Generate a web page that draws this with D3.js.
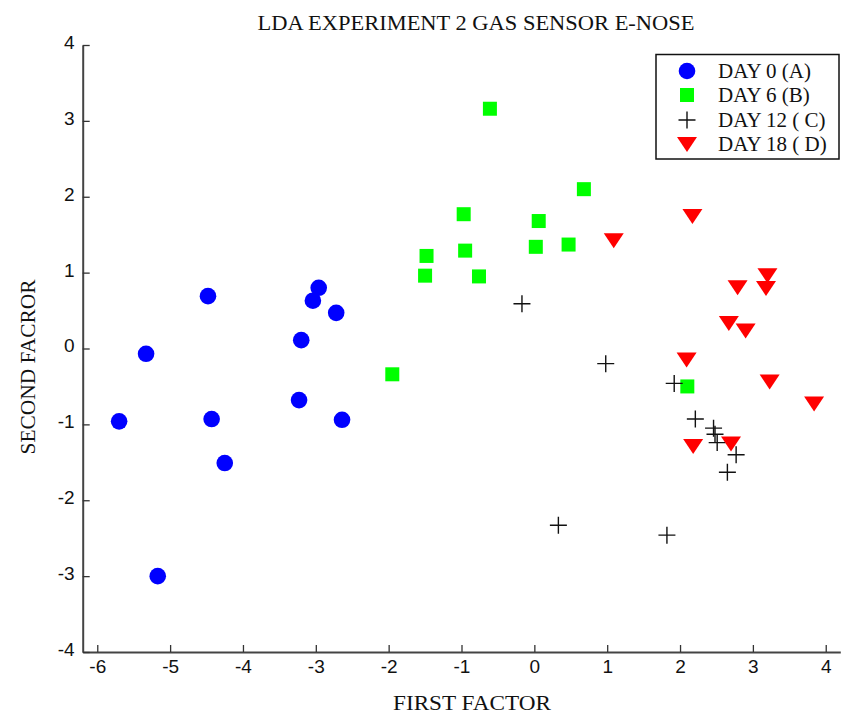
<!DOCTYPE html>
<html>
<head>
<meta charset="utf-8">
<script src="https://cdn.jsdelivr.net/npm/d3@7"></script>
<style>
  body { margin: 0; background: #fff; }
  svg { display: block; }
</style>
</head>
<body>
<div id="chart"></div>
<script>
// day 0 (A)
var day0X = [-5.70, -5.33, -4.48, -4.43, -4.25, -5.17, -3.20, -3.23, -3.04, -2.96, -2.72, -2.64];
var day0Y = [-0.96, -0.07, 0.69, -0.93, -1.51, -3.00, 0.11, -0.68, 0.63, 0.80, 0.47, -0.94];
// day 6 (B)
var day6X = [-0.61, 0.68, -0.97, 0.06, -0.95, 0.02, 0.47, -1.48, -1.50, -0.76, -1.95, 2.10];
var day6Y = [3.16, 2.10, 1.77, 1.68, 1.29, 1.34, 1.37, 1.22, 0.96, 0.95, -0.34, -0.50];
// day 12 (C)
var day12X = [-0.17, 0.98, 1.92, 2.21, 0.33, 1.82, 2.46, 2.48, 2.51, 2.77, 2.65];
var day12Y = [0.59, -0.20, -0.46, -0.93, -2.33, -2.46, -1.05, -1.13, -1.24, -1.40, -1.63];
// day 18 (D)
var day18X = [2.17, 1.09, 3.20, 3.18, 2.79, 2.67, 2.90, 2.09, 3.23, 3.84, 2.18, 2.70];
var day18Y = [1.74, 1.42, 0.96, 0.79, 0.80, 0.33, 0.23, -0.15, -0.44, -0.73, -1.29, -1.26];

var xTicks = [-6, -5, -4, -3, -2, -1, 0, 1, 2, 3, 4];
var yTicks = [-4, -3, -2, -1, 0, 1, 2, 3, 4];
var seriesNames = ["DAY 0 (A)", "DAY 6 (B)", "DAY 12 ( C)", "DAY 18 ( D)"];

var W = 841, H = 715;
var serif = "'Liberation Serif', 'Times New Roman', serif";
var sans = "'Liberation Sans', Arial, sans-serif";

var svg = d3.select("#chart").append("svg")
  .attr("width", W)
  .attr("height", H);

var xScale = d3.scaleLinear().domain([-6.2, 4.2]).range([82.7, 840.3]);
var yScale = d3.scaleLinear().domain([-4, 4]).range([652, 45]);

var pts = function(xs, ys) {
  return xs.map(function(d, i) { return { x: d, y: ys[i] }; });
};

// plain hyphen minus like the original
var fmt = function(d) { return String(d); };

// axes
var xAxis = d3.axisBottom(xScale).tickValues(xTicks).tickFormat(fmt)
  .tickSizeInner(-7).tickSizeOuter(0).tickPadding(7.5);
var yAxis = d3.axisLeft(yScale).tickValues(yTicks).tickFormat(fmt)
  .tickSizeInner(-7).tickSizeOuter(0).tickPadding(8);

var gx = svg.append("g")
  .attr("transform", "translate(0," + yScale(-4) + ")")
  .call(xAxis);
var gy = svg.append("g")
  .attr("transform", "translate(" + xScale(-6.2) + ",0)")
  .call(yAxis);

[gx, gy].forEach(function(g) {
  g.select(".domain").attr("stroke", "#444").attr("stroke-width", 2);
  g.selectAll(".tick line").attr("stroke", "#333").attr("stroke-width", 1.3);
  g.selectAll(".tick text")
    .style("font-family", sans)
    .style("font-size", "19px")
    .style("fill", "#111");
});
gy.selectAll(".tick text").attr("dy", "0.18em");

// markers
var trianglePath = "M-10,-7.5L10,-7.5L0,7.5Z";
var plusPath = "M-8.5,0H8.5M0,-8.5V8.5";

var drawCircles = function(g, data) {
  g.selectAll(".c").data(data).enter().append("circle")
    .attr("class", "c")
    .attr("cx", function(d) { return xScale(d.x); })
    .attr("cy", function(d) { return yScale(d.y); })
    .attr("r", 8.3)
    .style("fill", "#0000ff");
};
var drawSquares = function(g, data) {
  g.selectAll(".s").data(data).enter().append("rect")
    .attr("class", "s")
    .attr("x", function(d) { return xScale(d.x) - 7; })
    .attr("y", function(d) { return yScale(d.y) - 7; })
    .attr("width", 14)
    .attr("height", 14)
    .style("fill", "#00ff00");
};
var drawPluses = function(g, data) {
  g.selectAll(".p").data(data).enter().append("path")
    .attr("class", "p")
    .attr("d", plusPath)
    .attr("transform", function(d) { return "translate(" + xScale(d.x) + "," + yScale(d.y) + ")"; })
    .style("fill", "none")
    .style("stroke", "#111")
    .style("stroke-width", 1.4);
};
var drawTriangles = function(g, data) {
  g.selectAll(".t").data(data).enter().append("path")
    .attr("class", "t")
    .attr("d", trianglePath)
    .attr("transform", function(d) { return "translate(" + xScale(d.x) + "," + yScale(d.y) + ")"; })
    .style("fill", "#ff0000");
};

var plot = svg.append("g");
drawCircles(plot.append("g"), pts(day0X, day0Y));
drawSquares(plot.append("g"), pts(day6X, day6Y));
drawPluses(plot.append("g"), pts(day12X, day12Y));
drawTriangles(plot.append("g"), pts(day18X, day18Y));

// title and axis labels (the original glyphs are a bit wider, so stretch them)
svg.append("text")
  .attr("x", 476)
  .attr("y", 30)
  .attr("textLength", 437)
  .attr("lengthAdjust", "spacingAndGlyphs")
  .style("font-family", serif)
  .style("font-size", "21px")
  .style("fill", "#111")
  .style("text-anchor", "middle")
  .text("LDA EXPERIMENT 2 GAS SENSOR E-NOSE");

svg.append("text")
  .attr("x", 472)
  .attr("y", 710)
  .attr("textLength", 158)
  .attr("lengthAdjust", "spacingAndGlyphs")
  .style("font-family", serif)
  .style("font-size", "20px")
  .style("fill", "#111")
  .style("text-anchor", "middle")
  .text("FIRST FACTOR");

svg.append("text")
  .attr("transform", "translate(35,367) rotate(-90)")
  .attr("textLength", 175)
  .attr("lengthAdjust", "spacingAndGlyphs")
  .style("font-family", serif)
  .style("font-size", "21px")
  .style("fill", "#111")
  .style("text-anchor", "middle")
  .text("SECOND FACROR");

// legend
var legend = svg.append("g");
legend.append("rect")
  .attr("x", 656)
  .attr("y", 54.5)
  .attr("width", 183)
  .attr("height", 104.5)
  .style("fill", "#fff")
  .style("stroke", "#111")
  .style("stroke-width", 1.5);

var rowY = [71, 95, 120, 144.5];
var mx = 687;
legend.append("circle").attr("cx", mx).attr("cy", rowY[0]).attr("r", 8.3).style("fill", "#0000ff");
legend.append("rect").attr("x", mx - 7).attr("y", rowY[1] - 7).attr("width", 14).attr("height", 14).style("fill", "#00ff00");
legend.append("path").attr("d", plusPath).attr("transform", "translate(" + mx + "," + rowY[2] + ")")
  .style("fill", "none").style("stroke", "#111").style("stroke-width", 1.4);
legend.append("path").attr("d", trianglePath).attr("transform", "translate(" + mx + "," + rowY[3] + ")")
  .style("fill", "#ff0000");

legend.selectAll(".ltxt").data(seriesNames).enter().append("text")
  .attr("class", "ltxt")
  .attr("x", 718)
  .attr("y", function(d, i) { return rowY[i] + 6.5; })
  .style("font-family", serif)
  .style("font-size", "21px")
  .style("fill", "#111")
  .text(function(d) { return d; });
</script>
</body>
</html>
